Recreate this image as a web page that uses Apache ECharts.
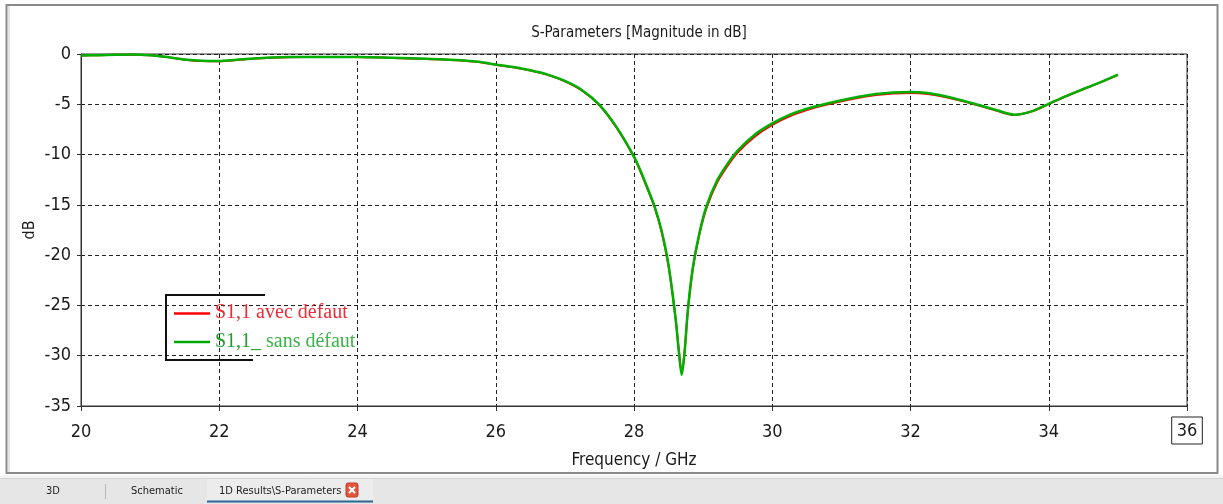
<!DOCTYPE html>
<html>
<head>
<meta charset="utf-8">
<title>S-Parameters</title>
<script src="https://cdn.jsdelivr.net/npm/echarts@6/dist/echarts.min.js"></script>
<style>
  html, body { margin: 0; padding: 0; background: #ffffff; }
  #chart { width: 1223px; height: 504px; }
</style>
</head>
<body>
<div id="chart"></div>
<script>
// Frequency samples (GHz)
const freqGHz = [
  20.0, 20.25, 20.5, 20.75, 21.0, 21.25, 21.5, 21.75, 22.0, 22.25,
  22.5, 22.75, 23.0, 23.5, 24.0, 24.5, 25.0, 25.5, 25.75, 26.0,
  26.25, 26.5, 26.75, 27.0, 27.25, 27.5, 27.75, 28.0, 28.1, 28.2,
  28.3, 28.4, 28.5, 28.6, 28.65, 28.69, 28.73, 28.78, 28.85, 28.95,
  29.05, 29.2, 29.35, 29.5, 29.75, 30.0, 30.25, 30.5, 30.75, 31.0,
  31.25, 31.5, 31.75, 32.0, 32.25, 32.5, 32.75, 33.0, 33.25, 33.5,
  33.75, 34.0, 34.25, 34.5, 34.75, 35.0
];

// S1,1 with defect (dB)
const s11Avec = [
  -0.15, -0.12, -0.08, -0.07, -0.13, -0.31, -0.56, -0.7, -0.72, -0.6,
  -0.46, -0.37, -0.32, -0.3, -0.29, -0.39, -0.5, -0.64, -0.8, -1.07,
  -1.33, -1.65, -2.08, -2.72, -3.65, -5.1, -7.35, -10.25, -11.8, -13.5,
  -15.3, -17.7, -21.1, -26.2, -29.5, -31.7, -29.7, -25.5, -21.4, -17.8,
  -15.3, -12.8, -11.15, -9.8, -8.2, -7.05, -6.2, -5.58, -5.1, -4.7,
  -4.36, -4.08, -3.92, -3.88, -3.97, -4.27, -4.68, -5.15, -5.65, -6.06,
  -5.72, -4.98, -4.2, -3.5, -2.82, -2.1
];

// S1,1 without defect (dB)
const s11Sans = [
  -0.15, -0.12, -0.08, -0.05, -0.12, -0.3, -0.55, -0.68, -0.7, -0.58,
  -0.45, -0.36, -0.31, -0.3, -0.3, -0.38, -0.48, -0.62, -0.78, -1.05,
  -1.3, -1.62, -2.05, -2.68, -3.6, -5.05, -7.3, -10.2, -11.7, -13.4,
  -15.2, -17.6, -21.0, -26.2, -29.7, -31.9, -29.8, -25.4, -21.3, -17.7,
  -15.1, -12.6, -10.95, -9.6, -8.0, -6.9, -6.05, -5.45, -5.0, -4.6,
  -4.25, -3.98, -3.82, -3.78, -3.88, -4.2, -4.62, -5.1, -5.6, -6.03,
  -5.7, -4.95, -4.18, -3.48, -2.8, -2.05
];

// Axis ticks
const xTicks = [20, 22, 24, 26, 28, 30, 32, 34, 36];
const yTicks = [0, -5, -10, -15, -20, -25, -30, -35];

const FONT = '"Liberation Sans Narrow", "DejaVu Sans Condensed", "Liberation Sans", sans-serif';
const toPairs = (xs, ys) => xs.map((x, i) => [x, ys[i]]);

const chart = echarts.init(document.getElementById('chart'), null, { renderer: 'canvas' });

chart.setOption({
  animation: false,
  backgroundColor: '#ffffff',
  title: {
    text: 'S-Parameters [Magnitude in dB]',
    left: 634,
    top: 21,
    textAlign: 'center',
    textStyle: { fontFamily: FONT, fontSize: 15, fontWeight: 'normal', color: '#1a1a1a' }
  },
  grid: {
    left: 81, right: 36, top: 54, bottom: 98,
    show: true, borderColor: '#333333', borderWidth: 1, backgroundColor: '#ffffff'
  },
  xAxis: {
    type: 'value',
    min: xTicks[0], max: xTicks[xTicks.length - 1], interval: 2,
    name: 'Frequency / GHz',
    nameLocation: 'middle',
    nameGap: 46,
    nameMoveOverlap: false,
    nameTextStyle: { fontFamily: FONT, fontSize: 17, color: '#1a1a1a' },
    axisLine: { show: true, onZero: false, lineStyle: { color: '#333333', width: 1 } },
    axisTick: { show: true, inside: false, length: 5, lineStyle: { color: '#333333' } },
    axisLabel: {
      fontFamily: FONT, fontSize: 18, color: '#1a1a1a', margin: 11,
      // the upper bound of the frequency axis is shown inside a small box
      formatter: v => (v === xTicks[xTicks.length - 1] ? '{box|' + v + '}' : '{n|' + v + '}'),
      rich: {
        n: { fontFamily: FONT, fontSize: 18, color: '#1a1a1a', padding: [6, 0, 0, 0] },
        box: {
          fontFamily: FONT, fontSize: 18, color: '#1a1a1a',
          borderColor: '#222222', borderWidth: 1, padding: [5, 5, 4, 5]
        }
      }
    },
    splitLine: { show: true, lineStyle: { color: '#222222', type: [4, 3], width: 1 } }
  },
  yAxis: {
    type: 'value',
    min: yTicks[yTicks.length - 1], max: yTicks[0], interval: 5,
    name: 'dB',
    nameLocation: 'middle',
    nameGap: 43,
    nameMoveOverlap: false,
    nameTextStyle: { fontFamily: FONT, fontSize: 16, color: '#1a1a1a' },
    axisLine: { show: true, onZero: false, lineStyle: { color: '#333333', width: 1 } },
    axisTick: { show: true, inside: false, length: 4, lineStyle: { color: '#333333' } },
    axisLabel: { fontFamily: FONT, fontSize: 18, color: '#1a1a1a', margin: 10 },
    splitLine: { show: true, lineStyle: { color: '#222222', type: [4, 3], width: 1 } }
  },
  series: [
    {
      name: 'S1,1 avec défaut',
      type: 'line',
      data: toPairs(freqGHz, s11Avec),
      showSymbol: false,
      smooth: 0.3,
      lineStyle: { color: '#ff0000', width: 2 },
      z: 2
    },
    {
      name: 'S1,1 sans défaut',
      type: 'line',
      data: toPairs(freqGHz, s11Sans),
      showSymbol: false,
      smooth: 0.3,
      lineStyle: { color: '#00b000', width: 2.5 },
      z: 3
    }
  ],
  graphic: [
    // outer window frame
    { type: 'rect', shape: { x: 6.5, y: 5, width: 1211, height: 468 }, style: { fill: null, stroke: '#8a8a8a', lineWidth: 2 }, silent: true, z: 0 },
    { type: 'line', shape: { x1: 9, y1: 6, x2: 9, y2: 472 }, style: { stroke: '#c8c8c8', lineWidth: 1 }, silent: true },
    // tab bar
    { type: 'rect', shape: { x: 0, y: 475, width: 1223, height: 3 }, style: { fill: '#f4f4f4' }, silent: true },
    { type: 'rect', shape: { x: 0, y: 478, width: 1223, height: 26 }, style: { fill: '#e6e6e6' }, silent: true },
    { type: 'line', shape: { x1: 0, y1: 478.5, x2: 1223, y2: 478.5 }, style: { stroke: '#d2d2d2', lineWidth: 1 }, silent: true },
    { type: 'text', left: 46, top: 486, style: { text: '3D', font: '11px ' + FONT, fill: '#222222' }, silent: true },
    { type: 'line', shape: { x1: 105.5, y1: 484, x2: 105.5, y2: 499 }, style: { stroke: '#b8b8b8', lineWidth: 1 }, silent: true },
    { type: 'text', left: 131, top: 486, style: { text: 'Schematic', font: '11px ' + FONT, fill: '#222222' }, silent: true },
    { type: 'rect', shape: { x: 207, y: 479, width: 166, height: 23 }, style: { fill: '#ececec' }, silent: true },
    { type: 'text', left: 219, top: 486, style: { text: '1D Results\\S-Parameters', font: '11px ' + FONT, fill: '#222222' }, silent: true },
    { type: 'rect', shape: { x: 346, y: 483, width: 12, height: 14, r: 2 }, style: { fill: '#e2553d', stroke: '#c23d28', lineWidth: 1 }, silent: true },
    { type: 'line', shape: { x1: 349, y1: 487, x2: 355, y2: 493 }, style: { stroke: '#ffffff', lineWidth: 2 }, silent: true },
    { type: 'line', shape: { x1: 355, y1: 487, x2: 349, y2: 493 }, style: { stroke: '#ffffff', lineWidth: 2 }, silent: true },
    { type: 'rect', shape: { x: 207, y: 500.5, width: 166, height: 2 }, style: { fill: '#2c6596' }, silent: true },
    // legend box
    { type: 'polyline', shape: { points: [[265, 295], [166, 295], [166, 360], [253, 360]] }, style: { fill: null, stroke: '#111111', lineWidth: 2 }, silent: true, z: 10 },
    { type: 'line', shape: { x1: 174, y1: 313.5, x2: 210, y2: 313.5 }, style: { stroke: '#ff0000', lineWidth: 2.5 }, silent: true, z: 10 },
    { type: 'text', left: 215, top: 303, style: { text: 'S1,1 avec défaut', font: '20px "Liberation Serif", serif', fill: '#ee2a36' }, silent: true, z: 10 },
    { type: 'line', shape: { x1: 174, y1: 342, x2: 210, y2: 342 }, style: { stroke: '#00a800', lineWidth: 2.5 }, silent: true, z: 10 },
    { type: 'text', left: 215, top: 332, style: { text: 'S1,1_', font: '20px "Liberation Serif", serif', fill: '#1f9e2a' }, silent: true, z: 10 },
    { type: 'text', left: 266, top: 332, style: { text: 'sans défaut', font: '20px "Liberation Serif", serif', fill: '#3db34a' }, silent: true, z: 10 }
  ]
});
</script>
</body>
</html>
